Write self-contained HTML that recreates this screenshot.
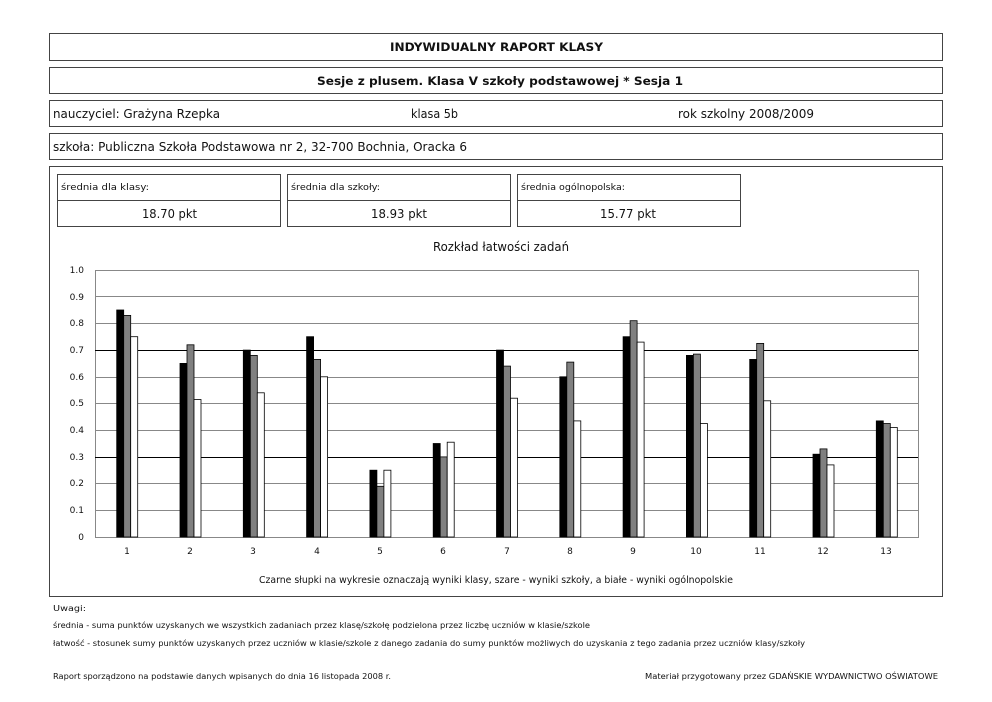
<!DOCTYPE html>
<html><head><meta charset="utf-8"><style>body{margin:0;background:#fff}svg{display:block}text{font-family:"DejaVu Sans","Liberation Sans",sans-serif;fill:#111}</style></head><body>
<svg width="992" height="702" viewBox="0 0 992 702" xmlns="http://www.w3.org/2000/svg">
<g fill="none" stroke="#444" stroke-width="1">
<rect x="49.5" y="33.5" width="893" height="27"/>
<rect x="49.5" y="67.5" width="893" height="26"/>
<rect x="49.5" y="100.5" width="893" height="26"/>
<rect x="49.5" y="133.5" width="893" height="26"/>
<rect x="49.5" y="166.5" width="893" height="430"/>
<rect x="57.5" y="174.5" width="223" height="52"/><line x1="57" y1="200.5" x2="281" y2="200.5"/>
<rect x="287.5" y="174.5" width="223" height="52"/><line x1="287" y1="200.5" x2="511" y2="200.5"/>
<rect x="517.5" y="174.5" width="223" height="52"/><line x1="517" y1="200.5" x2="741" y2="200.5"/>
</g>
<text x="390" y="51" font-size="11.5" font-weight="bold" textLength="213" lengthAdjust="spacingAndGlyphs">INDYWIDUALNY RAPORT KLASY</text>
<text x="317" y="85" font-size="11.5" font-weight="bold" textLength="366" lengthAdjust="spacingAndGlyphs">Sesje z plusem. Klasa V szkoły podstawowej  *  Sesja 1</text>
<text x="53" y="118" font-size="12" textLength="167" lengthAdjust="spacingAndGlyphs">nauczyciel: Grażyna Rzepka</text>
<text x="411" y="118" font-size="12" textLength="47" lengthAdjust="spacingAndGlyphs">klasa 5b</text>
<text x="678" y="118" font-size="12" textLength="136" lengthAdjust="spacingAndGlyphs">rok szkolny 2008/2009</text>
<text x="53" y="151" font-size="12" textLength="414" lengthAdjust="spacingAndGlyphs">szkoła: Publiczna Szkoła Podstawowa nr 2, 32-700 Bochnia, Oracka 6</text>
<text x="61" y="190" font-size="9" textLength="88" lengthAdjust="spacingAndGlyphs">średnia dla klasy:</text>
<text x="291" y="190" font-size="9" textLength="89" lengthAdjust="spacingAndGlyphs">średnia dla szkoły:</text>
<text x="521" y="190" font-size="9" textLength="104" lengthAdjust="spacingAndGlyphs">średnia ogólnopolska:</text>
<text x="142" y="218" font-size="12" textLength="55" lengthAdjust="spacingAndGlyphs">18.70 pkt</text>
<text x="371" y="218" font-size="12" textLength="56" lengthAdjust="spacingAndGlyphs">18.93 pkt</text>
<text x="600" y="218" font-size="12" textLength="56" lengthAdjust="spacingAndGlyphs">15.77 pkt</text>
<text x="433" y="251" font-size="12" textLength="136" lengthAdjust="spacingAndGlyphs">Rozkład łatwości zadań</text>
<g stroke="#888" stroke-width="1">
<line x1="95" y1="296.5" x2="918" y2="296.5"/><line x1="95" y1="323.5" x2="918" y2="323.5"/>
<line x1="95" y1="377.5" x2="918" y2="377.5"/><line x1="95" y1="403.5" x2="918" y2="403.5"/>
<line x1="95" y1="430.5" x2="918" y2="430.5"/><line x1="95" y1="483.5" x2="918" y2="483.5"/>
<line x1="95" y1="510.5" x2="918" y2="510.5"/>
<rect x="95.5" y="270.5" width="823" height="267" fill="none"/>
</g>
<g stroke="#000"><line x1="95" y1="350.5" x2="918" y2="350.5"/><line x1="95" y1="457.5" x2="918" y2="457.5"/></g>
<g font-size="9" text-anchor="end">
<text x="84" y="273">1.0</text><text x="84" y="300">0.9</text><text x="84" y="326">0.8</text><text x="84" y="353">0.7</text><text x="84" y="380">0.6</text><text x="84" y="406">0.5</text><text x="84" y="433">0.4</text><text x="84" y="460">0.3</text><text x="84" y="486">0.2</text><text x="84" y="513">0.1</text><text x="84" y="540">0</text>
</g>
<g font-size="9" text-anchor="middle">
<text x="127" y="554">1</text><text x="190" y="554">2</text><text x="253" y="554">3</text><text x="317" y="554">4</text><text x="380" y="554">5</text><text x="443" y="554">6</text><text x="507" y="554">7</text><text x="570" y="554">8</text><text x="633" y="554">9</text><text x="696" y="554">10</text><text x="760" y="554">11</text><text x="823" y="554">12</text><text x="886" y="554">13</text>
</g>
<g stroke="#000" stroke-width="0.8">
<g fill="#000">
<rect x="116.7" y="310" width="7" height="227"/><rect x="180" y="363.4" width="7" height="173.6"/><rect x="243.3" y="350.1" width="7" height="186.9"/><rect x="306.6" y="336.7" width="7" height="200.3"/><rect x="369.9" y="470.2" width="7" height="66.8"/><rect x="433.2" y="443.5" width="7" height="93.5"/><rect x="496.5" y="350.1" width="7" height="186.9"/><rect x="559.8" y="376.8" width="7" height="160.2"/><rect x="623.1" y="336.7" width="7" height="200.3"/><rect x="686.4" y="355.4" width="7" height="181.6"/><rect x="749.7" y="359.4" width="7" height="177.6"/><rect x="813" y="454.2" width="7" height="82.8"/><rect x="876.3" y="420.9" width="7" height="116.1"/>
</g>
<g fill="#808080">
<rect x="123.7" y="315.4" width="7" height="221.6"/><rect x="187" y="344.8" width="7" height="192.2"/><rect x="250.3" y="355.4" width="7" height="181.6"/><rect x="313.6" y="359.4" width="7" height="177.6"/><rect x="376.9" y="486.3" width="7" height="50.7"/><rect x="440.2" y="456.9" width="7" height="80.1"/><rect x="503.5" y="366.1" width="7" height="170.9"/><rect x="566.8" y="362.1" width="7" height="174.9"/><rect x="630.1" y="320.7" width="7" height="216.3"/><rect x="693.4" y="354.1" width="7" height="182.9"/><rect x="756.7" y="343.4" width="7" height="193.6"/><rect x="820" y="448.9" width="7" height="88.1"/><rect x="883.3" y="423.5" width="7" height="113.5"/>
</g>
<g fill="#fff">
<rect x="130.7" y="336.7" width="7" height="200.3"/><rect x="194" y="399.5" width="7" height="137.5"/><rect x="257.3" y="392.8" width="7" height="144.2"/><rect x="320.6" y="376.8" width="7" height="160.2"/><rect x="383.9" y="470.2" width="7" height="66.8"/><rect x="447.2" y="442.2" width="7" height="94.8"/><rect x="510.5" y="398.2" width="7" height="138.8"/><rect x="573.8" y="420.9" width="7" height="116.1"/><rect x="637.1" y="342.1" width="7" height="194.9"/><rect x="700.4" y="423.5" width="7" height="113.5"/><rect x="763.7" y="400.8" width="7" height="136.2"/><rect x="827" y="464.9" width="7" height="72.1"/><rect x="890.3" y="427.5" width="7" height="109.5"/>
</g>
</g>
<text x="259" y="583" font-size="9.5" textLength="474" lengthAdjust="spacingAndGlyphs">Czarne słupki na wykresie oznaczają wyniki klasy, szare - wyniki szkoły, a białe - wyniki ogólnopolskie</text>
<g font-size="8">
<text x="53" y="611" textLength="33" lengthAdjust="spacingAndGlyphs">Uwagi:</text>
<text x="53" y="628" textLength="537" lengthAdjust="spacingAndGlyphs">średnia - suma punktów uzyskanych we wszystkich zadaniach przez klasę/szkołę podzielona przez liczbę uczniów w klasie/szkole</text>
<text x="53" y="646" textLength="752" lengthAdjust="spacingAndGlyphs">łatwość - stosunek sumy punktów uzyskanych przez uczniów w klasie/szkole z danego zadania do sumy punktów możliwych do uzyskania z tego zadania przez uczniów klasy/szkoły</text>
<text x="53" y="679" textLength="338" lengthAdjust="spacingAndGlyphs">Raport sporządzono na podstawie danych wpisanych do dnia 16 listopada 2008 r.</text>
<text x="645" y="679" textLength="293" lengthAdjust="spacingAndGlyphs">Materiał przygotowany przez GDAŃSKIE WYDAWNICTWO OŚWIATOWE</text>
</g>
</svg>
</body></html>
